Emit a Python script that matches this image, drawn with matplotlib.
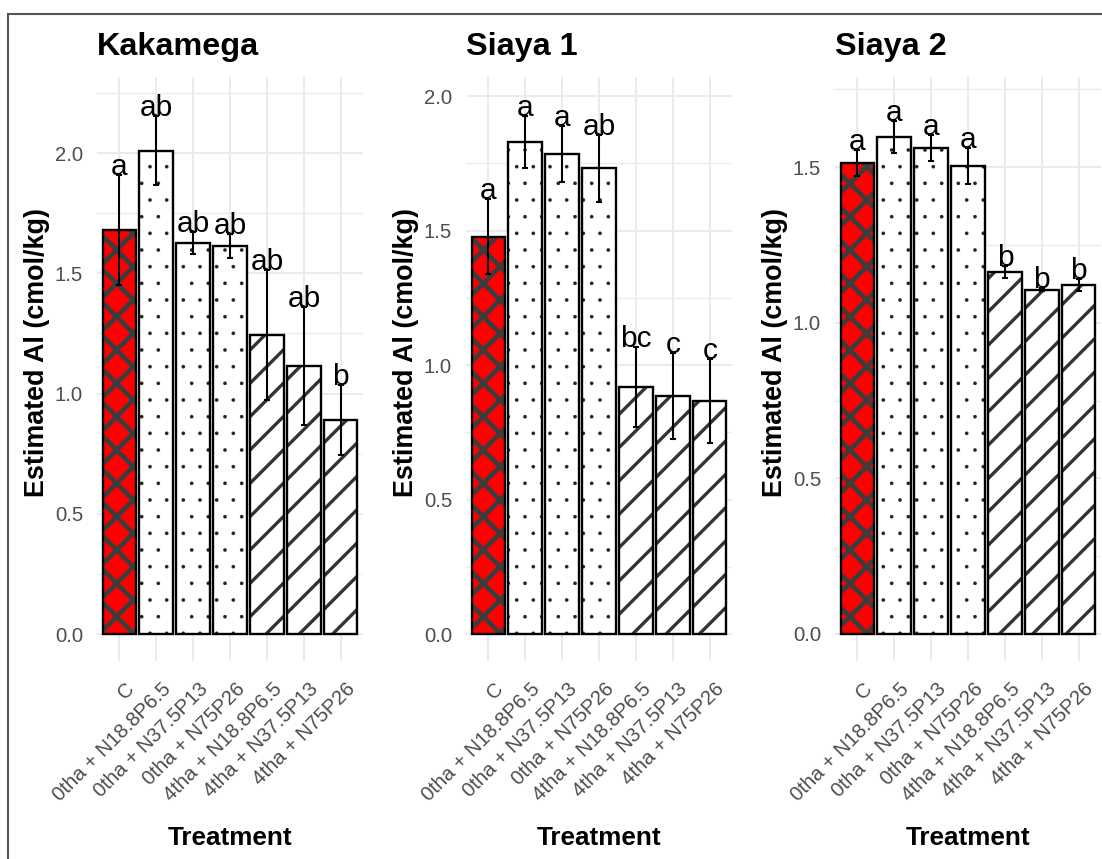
import matplotlib
matplotlib.use("Agg")
import matplotlib.pyplot as plt
import matplotlib.transforms as mtransforms
from matplotlib.patches import Rectangle
import numpy as np

tratamientos = ["C", "0tha + N18.8P6.5", "0tha + N37.5P13", "0tha + N75P26",
                "4tha + N18.8P6.5", "4tha + N37.5P13", "4tha + N75P26"]

sitios = ["Kakamega", "Siaya 1", "Siaya 2"]

kakamega_media = [1.68, 2.01, 1.625, 1.615, 1.245, 1.115, 0.89]
kakamega_se = [0.23, 0.145, 0.045, 0.05, 0.27, 0.245, 0.147]
kakamega_letras = ["a", "ab", "ab", "ab", "ab", "ab", "b"]

siaya1_media = [1.477, 1.83, 1.785, 1.731, 0.918, 0.885, 0.866]
siaya1_se = [0.14, 0.097, 0.105, 0.123, 0.148, 0.16, 0.155]
siaya1_letras = ["a", "a", "a", "ab", "bc", "c", "c"]

siaya2_media = [1.514, 1.597, 1.562, 1.503, 1.164, 1.107, 1.121]
siaya2_se = [0.042, 0.051, 0.042, 0.058, 0.02, 0.006, 0.02]
siaya2_letras = ["a", "a", "a", "a", "b", "b", "b"]

medias = [kakamega_media, siaya1_media, siaya2_media]
errores = [kakamega_se, siaya1_se, siaya2_se]
letras = [kakamega_letras, siaya1_letras, siaya2_letras]
limites = [(-0.112, 2.316), (-0.100, 2.071), (-0.087, 1.79)]

# relleno y trama por tratamiento: control, 0 t/ha, 4 t/ha
rellenos = ["#FF0000"] + ["white"] * 3 + ["white"] * 3
tramas = ["x"] + ["."] * 3 + ["/"] * 3
color_trama = ["#3C3C3C"] + ["#222222"] * 3 + ["#333333"] * 3
grosor_trama = [3.4] + [0.2] * 3 + [2.4] * 3

plt.rcParams["font.family"] = ["Liberation Sans", "DejaVu Sans"]
plt.rcParams["hatch.linewidth"] = 2.4

W, H = 1102, 859
fig = plt.figure(figsize=(W / 100, H / 100), dpi=100)

izquierdas = [97, 466, 835]
ancho_px, arriba_px, abajo_px = 266, 77, 661
gris = "#EBEBEB"
texto_gris = "#4D4D4D"

for i, sitio in enumerate(sitios):
    ax = fig.add_axes([izquierdas[i] / W, 1 - abajo_px / H, ancho_px / W, (abajo_px - arriba_px) / H])
    x = np.arange(1, len(tratamientos) + 1)
    media = np.array(medias[i])
    se = np.array(errores[i])

    barras = ax.bar(x, media, width=0.9, color=rellenos, linewidth=0, zorder=2)
    for b, h, c, lw in zip(barras, tramas, color_trama, grosor_trama):
        b.set_hatch(h)
        b.set_edgecolor(c)
        if hasattr(b, "set_hatch_linewidth"):
            b.set_hatch_linewidth(lw)
    ax.bar(x, media, width=0.9, fill=False, edgecolor="black", linewidth=1.7, zorder=3)
    ax.errorbar(x, media, yerr=se, fmt="none", ecolor="black", elinewidth=1.5,
                capsize=2.5, capthick=1.5, zorder=4)

    for xi, yi, l in zip(x, media + se, letras[i]):
        ax.text(xi, yi, l, ha="center", va="baseline", fontsize=21.5, color="black", zorder=5)

    ax.set_xlim(0.4, 7.6)
    ax.set_ylim(*limites[i])
    ax.set_yticks(np.arange(0, limites[i][1], 0.5))
    ax.set_yticks(np.arange(0.25, limites[i][1], 0.5), minor=True)
    ax.set_yticklabels([f"{v:.1f}" for v in np.arange(0, limites[i][1], 0.5)])
    ax.set_xticks(x)
    ax.set_xticklabels(tratamientos)

    ax.set_axisbelow(True)
    ax.grid(which="major", color=gris, linewidth=1.4, zorder=0)
    ax.grid(which="minor", axis="y", color=gris, linewidth=1.0, zorder=0)
    for s in ax.spines.values():
        s.set_visible(False)
    ax.tick_params(which="both", length=0)
    ax.tick_params(axis="y", labelsize=14.6, labelcolor=texto_gris, pad=10)
    ax.tick_params(axis="x", labelsize=14.6, labelcolor=texto_gris, pad=13)

    desplazar = mtransforms.ScaledTranslation(0.05, 0, fig.dpi_scale_trans)
    for t in ax.get_xticklabels():
        t.set_rotation(45)
        t.set_ha("right")
        t.set_va("top")
        t.set_rotation_mode("anchor")
        t.set_transform(t.get_transform() + desplazar)

    ax.set_title(sitio, loc="left", fontsize=23.3, fontweight="bold", pad=16)
    ax.text(-60 / ancho_px, 0.529, "Estimated Al (cmol/kg)", transform=ax.transAxes,
            rotation=90, ha="center", va="center", fontsize=19.4, fontweight="bold")
    ax.text(0.5, -(845 - abajo_px) / (abajo_px - arriba_px), "Treatment", transform=ax.transAxes,
            ha="center", va="baseline", fontsize=18.8, fontweight="bold")

# marco alrededor de la figura
fig.add_artist(Rectangle((8 / W, -0.1), 1.2, 1 - 14 / H + 0.1, transform=fig.transFigure,
                         fill=False, edgecolor="#555555", linewidth=1.5))

plt.savefig("out.png", dpi=100)
plt.close()
